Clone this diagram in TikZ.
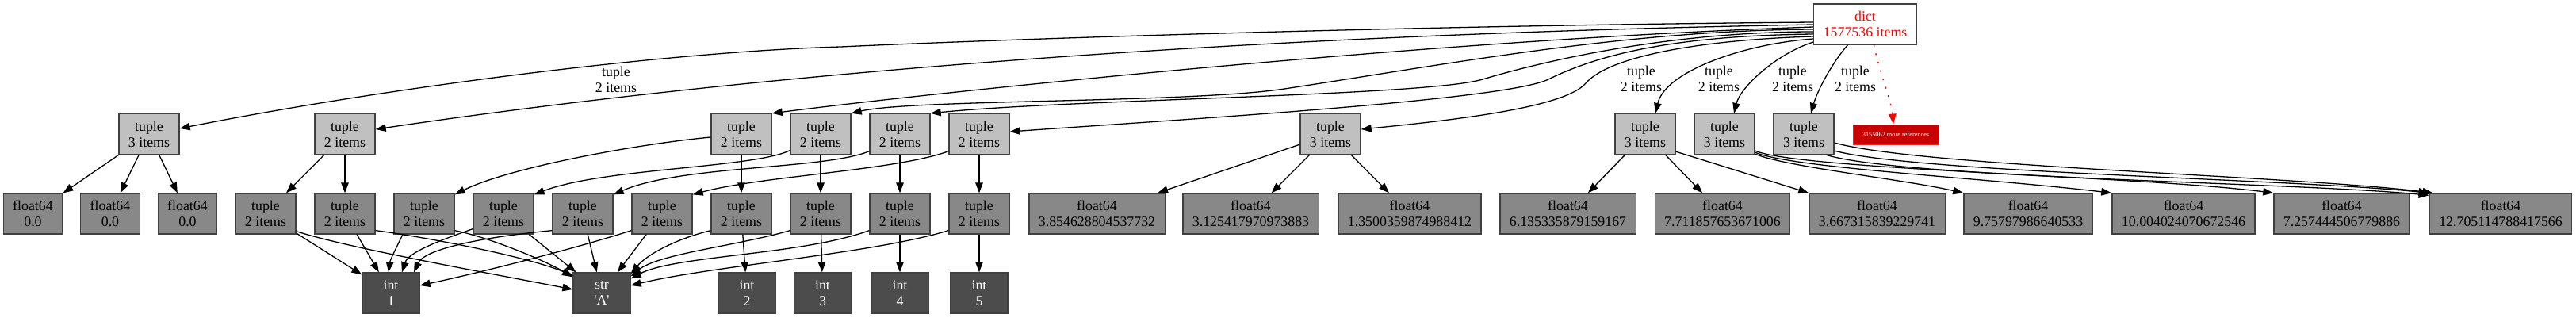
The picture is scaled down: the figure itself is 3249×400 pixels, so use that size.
\documentclass[tikz,border=0pt]{standalone}
\usepackage{fontspec}
\setmainfont{Liberation Serif}
\usetikzlibrary{arrows.meta}
\definecolor{lgray}{HTML}{C0C0C0}
\definecolor{mgray}{HTML}{888888}
\definecolor{dgray}{HTML}{4C4C4C}
\definecolor{bord}{HTML}{404040}
\definecolor{redfill}{HTML}{C80000}
\definecolor{redline}{HTML}{E82020}
\newcommand{\nodefnt}{\fontsize{17.85}{20}\selectfont}
\begin{document}
\begin{tikzpicture}[x=1pt,y=-1pt,
 nbox/.style={draw=bord,line width=1.3pt,minimum width=72pt,minimum height=51pt,inner xsep=12pt,inner ysep=2pt,align=center,font=\nodefnt},
 lev2/.style={nbox,fill=lgray},
 lev3/.style={nbox,fill=mgray},
 lev4/.style={nbox,fill=dgray,text=white},
 dictbox/.style={nbox,fill=white,text=red},
 morebox/.style={draw=redline,line width=0.8pt,fill=redfill,text=white,minimum width=108pt,minimum height=25pt,inner sep=0pt,font=\fontsize{8.3}{9}\selectfont},
 elabel/.style={align=center,font=\nodefnt,inner sep=0pt},
 conn/.style={draw=black,line width=1.3pt,-{Triangle[length=13pt,width=9.5pt]}},
 reddot/.style={draw=red,line width=1.4pt,dash pattern=on 2pt off 9pt,-{Triangle[length=13pt,width=9.5pt]}}
]
\useasboundingbox (0,0) rectangle (3249,400);

% level 1
\node[dictbox] (dict) at (2352.5,30.5) {dict\\1577536 items};
\node[morebox] (more) at (2391,169.5) {3155062 more references};

% level 2
\node[lev2] (T3a) at (188,169) {tuple\\3 items};
\node[lev2] (T2a) at (435,169) {tuple\\2 items};
\node[lev2] (T2b) at (935,169) {tuple\\2 items};
\node[lev2] (T2c) at (1035,169) {tuple\\2 items};
\node[lev2] (T2d) at (1135,169) {tuple\\2 items};
\node[lev2] (T2e) at (1235,169) {tuple\\2 items};
\node[lev2] (T3b) at (1678,169) {tuple\\3 items};
\node[lev2] (T3c) at (2075,169) {tuple\\3 items};
\node[lev2] (T3d) at (2175,169) {tuple\\3 items};
\node[lev2] (T3e) at (2275,169) {tuple\\3 items};

% level 3
\node[lev3] (F0a) at (41.5,269.5) {float64\\0.0};
\node[lev3] (F0b) at (139,269.5) {float64\\0.0};
\node[lev3] (F0c) at (236.5,269.5) {float64\\0.0};
\node[lev3] (A1) at (335,269.5) {tuple\\2 items};
\node[lev3] (A2) at (435,269.5) {tuple\\2 items};
\node[lev3] (A3) at (535,269.5) {tuple\\2 items};
\node[lev3] (A4) at (635,269.5) {tuple\\2 items};
\node[lev3] (A5) at (735,269.5) {tuple\\2 items};
\node[lev3] (A6) at (835,269.5) {tuple\\2 items};
\node[lev3] (A7) at (935,269.5) {tuple\\2 items};
\node[lev3] (A8) at (1035,269.5) {tuple\\2 items};
\node[lev3] (A9) at (1135,269.5) {tuple\\2 items};
\node[lev3] (A10) at (1235,269.5) {tuple\\2 items};
\node[lev3] (f1) at (1383.5,269.5) {float64\\3.854628804537732};
\node[lev3] (f2) at (1577.5,269.5) {float64\\3.125417970973883};
\node[lev3] (f3) at (1778,269.5) {float64\\1.3500359874988412};
\node[lev3] (f4) at (1977.5,269.5) {float64\\6.135335879159167};
\node[lev3] (f5) at (2172.5,269.5) {float64\\7.711857653671006};
\node[lev3] (f6) at (2367.5,269.5) {float64\\3.667315839229741};
\node[lev3] (f7) at (2558,269.5) {float64\\9.75797986640533};
\node[lev3] (f8) at (2754,269.5) {float64\\10.004024070672546};
\node[lev3] (f9) at (2953.5,269.5) {float64\\7.257444506779886};
\node[lev3] (f10) at (3154,269.5) {float64\\12.705114788417566};

% level 4
\node[lev4] (int1) at (493,369.5) {int\\1};
\node[lev4] (strA) at (759,369.5) {str\\\textquotesingle A\textquotesingle};
\node[lev4] (int2) at (942,369.5) {int\\2};
\node[lev4] (int3) at (1037.5,369.5) {int\\3};
\node[lev4] (int4) at (1135,369.5) {int\\4};
\node[lev4] (int5) at (1235,369.5) {int\\5};

% edge labels
\node[elabel] (L1) at (777,100) {tuple\\2 items};
\node[elabel] (L2) at (2070,99) {tuple\\2 items};
\node[elabel] (L3) at (2168,99) {tuple\\2 items};
\node[elabel] (L4) at (2261,99) {tuple\\2 items};
\node[elabel] (L5) at (2340,99) {tuple\\2 items};

% dict -> level 2
\draw[conn] ([yshift=2.5pt]dict.west) .. controls (1800,32) and (1300,48) .. (1060,59) .. controls (850,65) and (500,108) .. ([yshift=7pt]T3a.east);
\draw[conn] ([yshift=-0.5pt]dict.west) .. controls (1500,45) and (900,100) .. ([yshift=6pt]T2a.east);
\draw[conn] ([yshift=-3.5pt]dict.west) .. controls (1800,50) and (1150,120) .. (T2b.north east);
\draw[conn] ([yshift=-6.5pt]dict.west) .. controls (2050,38) and (1820,82) .. (1620,112) .. controls (1500,130) and (1150,125) .. (T2c.north east);
\draw[conn] ([yshift=-9.5pt]dict.west) .. controls (2100,40) and (1940,79) .. (1870,100) .. controls (1800,121) and (1350,125) .. (T2d.north east);
\draw[conn] ([yshift=-12.5pt]dict.west) .. controls (2100,45) and (2010,72) .. (1953,100) .. controls (1900,126) and (1500,150) .. ([yshift=3pt]T2e.east);
\draw[conn] ([yshift=-15.5pt]dict.west) .. controls (2150,50) and (2030,70) .. (2000,105) .. controls (1975,134) and (1850,150) .. ([yshift=6pt]T3b.east);
\draw[conn] ([yshift=-18.5pt]dict.west) .. controls (2200,55) and (2100,90) .. ([xshift=13pt]T3c.north);
\draw[conn] ([yshift=-22.5pt]dict.west) .. controls (2240,68) and (2195,110) .. ([xshift=12pt]T3d.north);
\draw[conn] ([xshift=-22pt]dict.south) .. controls (2310,80) and (2292,115) .. ([xshift=9pt]T3e.north);
\draw[reddot] ([xshift=11pt]dict.south) .. controls (2370,90) and (2385,125) .. ([xshift=-3pt]more.north);

% level 2 -> level 3
\draw[conn] (T3a) -- (F0a);
\draw[conn] (T3a) -- (F0b);
\draw[conn] (T3a) -- (F0c);
\draw[conn] (T2a) -- (A1);
\draw[conn] (T2a) -- (A2);
\draw[conn] (T2b) -- (A7);
\draw[conn] (T2c) -- (A8);
\draw[conn] (T2d) -- (A9);
\draw[conn] (T2e) -- (A10);
\draw[conn] ([yshift=-4pt]T2b.west) .. controls (800,182) and (640,212) .. ([yshift=-2pt]A3.north east);
\draw[conn] ([yshift=5.5pt]T2c.south west) .. controls (950,212) and (760,212) .. ([yshift=-2pt]A4.north east);
\draw[conn] ([yshift=4.5pt]T2d.south west) .. controls (1040,214) and (860,208) .. ([yshift=-2pt]A5.north east);
\draw[conn] ([yshift=4.5pt]T2e.south west) .. controls (1130,215) and (960,222) .. ([yshift=-2pt]A6.north east);
\draw[conn] (T3b) -- (f1);
\draw[conn] (T3b) -- (f2);
\draw[conn] (T3b) -- (f3);
\draw[conn] (T3c) -- (f4);
\draw[conn] (T3c) -- (f5);
\draw[conn] ([yshift=4pt]T3c.south east) -- (f6.north west);
\draw[conn] ([yshift=1pt]T3d.south east) .. controls (2250,210) and (2400,226) .. (f7.north west);
\draw[conn] ([yshift=3pt]T3d.south east) .. controls (2260,212) and (2500,224) .. (f8.north west);
\draw[conn] ([yshift=5pt]T3d.south east) .. controls (2270,214) and (2700,222) .. (f9.north west);
\draw[conn] ([yshift=-11pt]T3e.east) .. controls (2420,210) and (2900,222) .. ([xshift=5pt]f10.north west);
\draw[conn] ([yshift=5pt]T3e.south east) .. controls (2420,218) and (2900,226) .. (f10.north west);
\draw[conn] ([xshift=-11pt]T3e.south east) .. controls (2400,225) and (2900,230) .. ([yshift=-3pt]f10.north west);

% level 3 -> level 4
\draw[conn] (A1) -- (int1);
\draw[conn] (A2) -- (int1);
\draw[conn] (A4) -- (strA);
\draw[conn] (A5) -- (strA);
\draw[conn] (A6) -- (strA);
\draw[conn] (A7) -- (int2);
\draw[conn] (A8) -- (int3);
\draw[conn] (A9) -- (int4);
\draw[conn] (A10) -- (int5);
\draw[conn] ([yshift=4pt]A1.south east) .. controls (440,313) and (620,345) .. ([yshift=4.5pt]strA.west);
\draw[conn] ([yshift=5pt]A2.south east) .. controls (530,298) and (660,322) .. ([yshift=-4pt]strA.north west);
\draw[conn] ([yshift=5pt]A3.south east) .. controls (620,300) and (690,330) .. ([yshift=-6pt]strA.north west);
\draw[conn] ([xshift=-27pt]A3.south) .. controls (500,312) and (492,328) .. ([xshift=-3pt]int1.north);
\draw[conn] ([yshift=7pt]A4.south west) .. controls (555,303) and (515,318) .. ([xshift=14pt]int1.north);
\draw[conn] ([yshift=5pt]A5.south west) .. controls (600,300) and (535,315) .. ([xshift=29pt]int1.north);
\draw[conn] ([yshift=5pt]A6.south west) .. controls (720,315) and (600,345) .. ([yshift=9.5pt]int1.east);
\draw[conn] ([yshift=5pt]A7.south west) .. controls (850,302) and (815,322) .. ([yshift=-2pt]strA.north east);
\draw[conn] ([yshift=5pt]A8.south west) .. controls (930,310) and (830,320) .. ([yshift=-5pt]strA.north east);
\draw[conn] ([yshift=5pt]A9.south west) .. controls (1010,322) and (850,322) .. ([yshift=-8pt]strA.north east);
\draw[conn] ([yshift=5pt]A10.south west) .. controls (1100,320) and (900,335) .. ([yshift=9.5pt]strA.east);
\end{tikzpicture}
\end{document}
